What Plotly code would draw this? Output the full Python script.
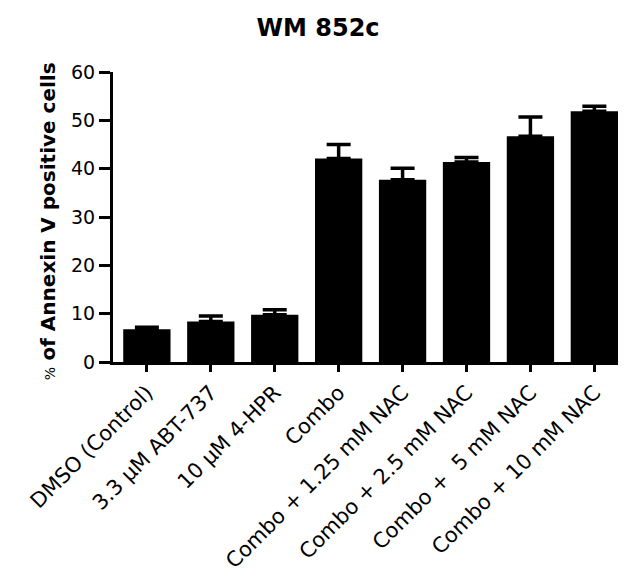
import plotly.graph_objects as go

categories = ["DMSO (Control)", "3.3 µM ABT-737", "10 µM 4-HPR", "Combo",
              "Combo + 1.25 mM NAC", "Combo + 2.5 mM NAC",
              "Combo +\u00a0\u00a05 mM NAC", "Combo + 10 mM NAC"]
means = [6.8, 8.4, 9.8, 42.1, 37.7, 41.4, 46.7, 51.9]
errors = [0.4, 1.1, 1.0, 2.9, 2.4, 0.9, 4.0, 1.0]
y_ticks = [0, 10, 20, 30, 40, 50, 60]

font_family = "DejaVu Sans, Verdana, sans-serif"

fig = go.Figure()
fig.add_trace(go.Bar(
    x=categories, y=means,
    marker=dict(color="black", line=dict(color="black", width=0)),
    error_y=dict(type="data", array=errors, arrayminus=[0] * len(errors),
                 symmetric=False, color="black", thickness=3.5, width=12),
    width=0.74,
))

fig.update_layout(
    width=638, height=578,
    margin=dict(l=105, r=28, t=64, b=224, autoexpand=False),
    paper_bgcolor="white", plot_bgcolor="white",
    showlegend=False,
    font=dict(family=font_family, color="black"),
    title=dict(text="<b>WM 852c</b>", x=0.486, xref="container", xanchor="center",
               y=1 - 20 / 578, yref="container", yanchor="middle",
               font=dict(size=24, family=font_family)),
    annotations=[dict(
        text="<span style='font-size:14px;font-weight:normal'>%</span> <b>of Annexin V positive cells</b>",
        xref="paper", yref="paper", x=-0.129, y=0.485,
        xanchor="center", yanchor="middle", textangle=-90, showarrow=False,
        font=dict(size=20, family=font_family, color="black"),
    )],
)
fig.update_xaxes(
    range=[-0.53, 7.37], showline=True, linecolor="black", linewidth=3,
    ticks="outside", ticklen=7, tickwidth=2.5, tickcolor="black",
    tickangle=-45, tickfont=dict(size=21, family=font_family),
    showgrid=False, zeroline=False, automargin=False,
)
fig.update_yaxes(
    range=[0, 60], tickvals=y_ticks, showline=True, linecolor="black", linewidth=3,
    ticks="outside", ticklen=11, tickwidth=2.5, tickcolor="black",
    tickfont=dict(size=19, family=font_family),
    showgrid=False, zeroline=False, automargin=False,
)

fig.write_html("out.html")
